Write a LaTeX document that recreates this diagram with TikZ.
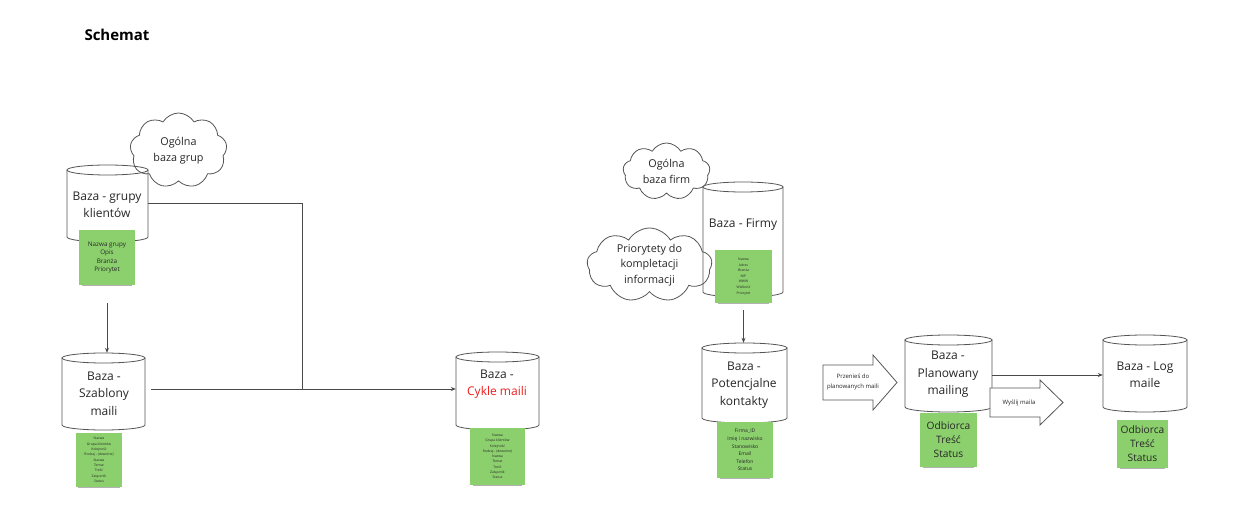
\documentclass[tikz,border=0pt]{standalone}
\usepackage{fontspec}
\setmainfont{Open Sans}
\usetikzlibrary{shapes.symbols,shadows,arrows.meta}
\definecolor{sticky}{HTML}{8CD06E}
\definecolor{ln}{HTML}{4A4A4A}
\definecolor{cyl}{HTML}{555555}
\definecolor{txt}{HTML}{262626}
\definecolor{redtxt}{HTML}{F01E1E}
% #1 name, #2 cx, #3 ytop, #4 ybottom, #5 width
\newcommand\dbcyl[5]{%
  \pgfmathsetmacro\cxl{#2-#5/2}\pgfmathsetmacro\cxr{#2+#5/2}%
  \pgfmathsetmacro\yt{#3+5}\pgfmathsetmacro\yb{#4-5}%
  \pgfmathsetmacro\cyy{(#3+#4)/2}\pgfmathsetmacro\hh{#4-#3}\pgfmathsetmacro\rx{#5/2}%
  \node[inner sep=0pt, minimum width=#5pt, minimum height=\hh pt] (#1) at (#2,\cyy) {};
  \draw[cylline] (#2,\yt) ellipse [x radius=\rx, y radius=5];
  \draw[cylline] (\cxl,\yt) -- (\cxl,\yb) arc[start angle=180, end angle=0, x radius=\rx, y radius=5] -- (\cxr,\yt);
}
\begin{document}
\begin{tikzpicture}[x=1pt,y=-1pt,
  cylline/.style={draw=cyl, line width=0.8pt},
  cyltext/.style={align=center, text=txt, inner sep=0pt, font=\fontsize{12}{17.5}\selectfont},
  cloudbox/.style={cloud, cloud puffs=9, cloud puff arc=120, cloud ignores aspect, draw=cyl, line width=0.8pt, inner sep=0pt, align=center, text=txt, font=\fontsize{10.8}{15.5}\selectfont},
  note/.style={fill=sticky, draw=none, inner sep=0pt, align=center, text=txt,
    drop shadow={opacity=0.6, shadow xshift=0pt, shadow yshift=-4pt, shadow scale=0.9}},
  tinytext/.style={font=\fontsize{3.4}{5.3}\selectfont},
  smalltext/.style={font=\fontsize{5}{7.6}\selectfont},
  bigtext/.style={font=\fontsize{10.2}{14}\selectfont},
  conn/.style={draw=ln, line width=0.8pt},
  arr/.style={conn, -{Stealth[length=5pt,width=4pt]}},
  blockarrow/.style={draw=cyl, line width=0.8pt, fill=white},
  arrtext/.style={align=center, text=txt, inner sep=0pt, font=\fontsize{6}{10}\selectfont}
]
\useasboundingbox[fill=white] (0,0) rectangle (1248,518);

\node[font=\fontsize{15}{18}\selectfont\bfseries, text=black, inner sep=0pt] (title) at (117,35) {Schemat};

% cylinders
\dbcyl{c1}{107.5}{165}{242}{81}
\dbcyl{c2}{103.5}{353}{430}{83}
\dbcyl{c3}{497.5}{352}{430}{83}
\dbcyl{c4}{743}{182}{297}{80}
\dbcyl{c5}{744.5}{343}{423}{85}
\dbcyl{c6}{948.5}{335}{412}{87}
\dbcyl{c7}{1145}{335}{412}{84}

\node[cyltext] (t1) at (107,205) {Baza - grupy\\klientów};
\node[cyltext] (t2) at (104,393.5) {Baza -\\Szablony\\maili};
\node[cyltext] (t3) at (497,384) {Baza -\\\textcolor{redtxt}{Cykle maili}};
\node[cyltext] (t4) at (743,225) {Baza - Firmy};
\node[cyltext] (t5) at (744,385) {Baza -\\Potencjalne\\kontakty};
\node[cyltext] (t6) at (948,374.5) {Baza -\\Planowany\\mailing};
\node[cyltext] (t7) at (1145,375) {Baza - Log\\maile};

% clouds
\node[cloudbox, minimum width=97pt, minimum height=75pt] (k1) at (178.5,150.5) {Ogólna\\baza grup};
\node[cloudbox, minimum width=87pt, minimum height=57pt] (k2) at (666.5,171.5) {Ogólna\\baza firm};
\node[cloudbox, minimum width=125pt, minimum height=74pt] (k3) at (649.5,265) {Priorytety do\\kompletacji\\informacji};

% sticky notes
\node[note, font=\fontsize{6.3}{8.3}\selectfont, minimum width=56pt, minimum height=55pt] (s1) at (107,257.5) {Nazwa grupy\\Opis\\Branża\\Priorytet};
\node[note, tinytext, minimum width=46pt, minimum height=54pt] (s2) at (99,460) {Nazwa\\Grupa klientów\\Kolejność\\Rodzaj - (dowolne)\\Nazwa\\Temat\\Treść\\Załącznik\\Status};
\node[note, tinytext, minimum width=55pt, minimum height=57pt] (s3) at (497.5,456.5) {Nazwa\\Grupa klientów\\Kolejność\\Rodzaj - (dowolne)\\Nazwa\\Temat\\Treść\\Załącznik\\Status};
\node[note, font=\fontsize{3.4}{5.6}\selectfont, minimum width=57pt, minimum height=53pt] (s4) at (743.5,276.5) {Nazwa\\Adres\\Branża\\NIP\\WWW\\Wielkość\\Priorytet};
\node[note, smalltext, minimum width=56pt, minimum height=56pt] (s5) at (745,450) {Firma\_ID\\Imię i nazwisko\\Stanowisko\\Email\\Telefon\\Status};
\node[note, bigtext, minimum width=57pt, minimum height=54pt] (s6) at (948.5,440) {Odbiorca\\Treść\\Status};
\node[note, bigtext, minimum width=51pt, minimum height=48pt] (s7) at (1142.5,444) {Odbiorca\\Treść\\Status};

% connectors
\coordinate (j1) at (302,389);
\draw[conn] (c1.east) -| (j1);
\draw[arr, shorten <=6pt] (c2.east |- j1) -- (c3.west |- j1);
\draw[arr, shorten <=18pt] (s1.south) -- (c2.north -| s1.south);
\draw[arr, shorten <=7pt] (s4.south) -- (c5.north -| s4.south);
\draw[arr] (c6.east |- 0,375) -- (c7.west |- 0,375);

% block arrows
\draw[blockarrow] (823,365) -- (873,365) -- (873,355) -- (897,382.5) -- (873,410) -- (873,400) -- (823,400) -- cycle;
\node[arrtext] (b1) at (853,381.5) {Przenieś do\\planowanych maili};
\draw[blockarrow] (990,388) -- (1040,388) -- (1040,380) -- (1063,402.5) -- (1040,425) -- (1040,417) -- (990,417) -- cycle;
\node[arrtext] (b2) at (1019,403) {Wyślij maila};
\end{tikzpicture}
\end{document}
